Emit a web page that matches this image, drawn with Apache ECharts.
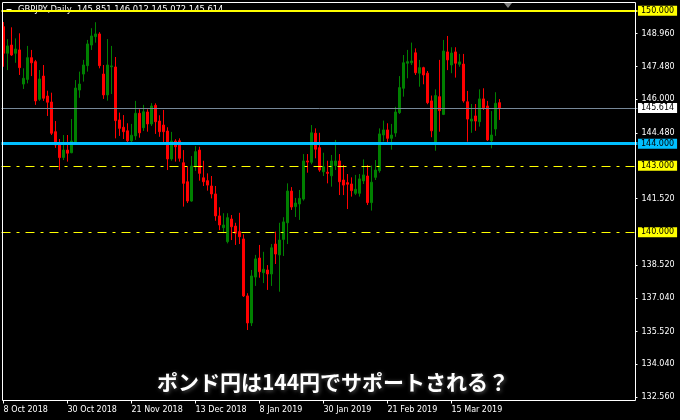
<!DOCTYPE html>
<html>
<head>
<meta charset="utf-8">
<script src="https://cdn.jsdelivr.net/npm/echarts@6/dist/echarts.min.js"></script>
<style>
html,body{margin:0;padding:0;background:#000;}
#chart{width:680px;height:420px;}
</style>
</head>
<body>
<div id="chart"></div>
<script>
// ---- data ----
const tickLabels = ['8 Oct 2018','30 Oct 2018','21 Nov 2018','13 Dec 2018','8 Jan 2019','30 Jan 2019','21 Feb 2019','15 Mar 2019'];
const opens = [
149.28,148.08,148.45,148.08,148.23,146.69,146.90,147.88,147.70,146.00,
147.05,146.15,145.88,144.54,143.94,143.38,143.71,143.59,144.08,146.42,
147.14,147.52,148.45,148.83,148.95,147.14,146.20,147.47,147.46,145.07,
144.74,144.58,144.13,144.35,145.37,144.72,145.43,144.89,145.73,145.02,
144.84,144.57,143.31,144.12,144.13,143.14,142.28,141.41,142.96,143.71,
142.46,142.33,142.09,141.73,140.74,140.21,139.58,140.60,140.28,140.03,
139.70,137.13,135.91,137.98,138.84,138.18,138.30,138.12,139.47,138.98,
139.68,140.43,141.86,141.16,141.28,141.50,143.22,143.16,144.47,143.82,
142.73,142.71,142.55,143.01,143.22,142.36,142.24,142.18,141.76,141.76,
142.32,142.54,141.34,142.48,142.78,144.39,144.62,144.24,144.48,145.40,
146.50,147.63,147.65,148.10,147.18,147.43,147.18,145.93,144.04,146.12,
145.32,148.14,147.55,148.14,147.58,147.59,145.89,145.02,145.25,144.99,
146.02,145.70,144.13,144.66,145.851];
const closes = [
148.08,148.41,148.00,148.27,147.43,146.95,147.88,147.65,145.93,146.92,
146.05,145.87,144.47,143.94,143.37,143.71,143.57,144.12,146.51,146.69,
147.55,148.50,148.86,148.95,147.52,146.20,147.55,147.51,145.04,144.69,
144.54,144.13,144.38,145.37,144.49,145.44,144.89,145.70,144.99,144.54,
144.54,143.31,144.12,143.86,143.34,142.21,141.41,142.99,143.64,142.66,
142.28,142.13,141.73,140.74,140.33,140.33,140.66,140.25,139.96,139.80,
137.13,135.91,138.03,138.80,138.22,138.33,138.12,139.30,139.02,139.65,
140.47,141.86,141.14,141.32,141.53,143.22,143.17,144.49,143.75,142.81,
142.96,142.66,143.22,143.22,142.28,142.13,142.17,141.88,141.94,142.41,
142.59,141.34,142.26,142.81,144.44,144.62,144.24,144.39,145.43,146.53,
147.65,147.70,147.73,147.20,147.43,147.10,145.85,144.58,146.17,145.49,
148.18,147.78,148.09,147.63,147.69,145.93,145.11,145.11,145.02,146.02,
145.62,144.17,144.39,145.82,145.614];
const lows = [
147.47,147.32,147.96,147.65,147.10,146.47,146.72,147.05,145.75,145.93,
145.93,145.25,144.39,143.81,142.81,143.26,143.19,143.57,144.02,146.07,
146.80,147.25,148.23,148.56,147.40,146.02,145.94,146.24,144.24,144.35,
144.21,144.04,144.01,144.17,144.27,144.57,144.54,144.80,144.44,144.31,
144.02,142.81,143.23,143.19,143.19,141.16,141.32,141.38,142.77,142.33,
142.09,141.88,141.53,140.52,140.10,139.96,139.50,139.65,139.43,139.47,
137.08,135.59,135.77,137.58,137.95,137.71,137.40,137.58,138.57,137.32,
138.93,139.47,141.01,140.69,140.56,141.43,142.69,143.07,143.34,142.73,
142.54,142.21,142.06,142.81,141.68,141.68,141.05,141.61,141.68,141.61,
142.18,141.23,140.98,142.36,142.69,144.10,144.02,143.73,144.31,145.34,
146.12,146.95,147.55,147.10,146.57,146.68,145.78,144.29,143.68,144.54,
145.29,147.32,147.18,146.98,147.47,145.85,144.09,144.49,144.58,144.77,
145.52,144.12,143.79,144.35,145.072];
const highs = [
149.49,148.72,149.25,148.75,148.98,147.40,148.41,148.23,147.78,147.32,
147.55,146.39,146.30,145.02,144.21,144.39,144.39,145.11,146.87,147.25,
147.78,148.68,149.21,149.48,149.03,147.55,148.72,148.41,147.91,145.40,
145.29,144.92,144.89,145.93,145.55,145.75,145.55,145.83,145.82,145.28,
145.52,144.74,144.53,144.20,144.24,143.71,142.96,143.44,143.89,143.86,
143.23,142.66,142.54,142.09,141.13,140.86,140.86,140.78,140.43,140.88,
139.91,137.25,138.30,138.98,139.43,139.12,138.52,139.47,140.03,140.43,
140.68,142.21,142.04,141.55,141.91,143.53,143.53,144.84,144.69,144.49,
143.59,143.23,143.49,144.17,143.53,143.04,142.63,142.48,142.59,142.63,
143.29,143.04,143.01,143.26,144.69,145.04,144.92,144.89,145.66,147.05,
148.00,148.23,148.56,148.30,147.78,147.47,147.28,146.17,146.45,147.78,
148.68,148.86,148.35,148.35,148.05,148.05,146.38,145.79,145.79,146.45,
146.50,145.93,145.47,146.32,146.012];
const priceTicks = [148.96,147.48,146.00,144.48,141.52,138.52,137.04,135.52,134.04,132.56];
const levelLines = [150.000, 145.614, 144.000, 143.000, 140.000];
const headerText = 'GBPJPY,Daily  145.851 146.012 145.072 145.614';
const titleText = 'ポンド円は144円でサポートされる？';

// trading-day categories (weekends, 25 Dec and 1 Jan skipped) plus empty right margin
const categories = [];
(function(){
  const d = new Date(Date.UTC(2018,9,8));
  while (categories.length < opens.length) {
    const wd = d.getUTCDay(), m = d.getUTCMonth(), dd = d.getUTCDate();
    const hol = (m===11 && dd===25) || (m===0 && dd===1);
    if (wd!==0 && wd!==6 && !hol) categories.push(d.toISOString().slice(0,10));
    d.setUTCDate(d.getUTCDate()+1);
  }
  for (let k=0; categories.length < 159; k++) categories.push('pad'+k);
})();

const candleData = opens.map((o,i)=>[o, closes[i], lows[i], highs[i]]);
const labelEvery = 16;
const showTick = (idx)=> idx % labelEvery === 0 && idx/labelEvery < tickLabels.length;

const FONT = 'DejaVu Sans';
function box(bg, txt){
  return {show:true, position:'end', distance:0.5, formatter: txt,
    color:'#000', backgroundColor:bg, fontFamily:FONT, fontSize:8,
    lineHeight:9, padding:[1,3,0,3]};
}

const chart = echarts.init(document.getElementById('chart'), null, {renderer:'canvas'});
chart.setOption({
  backgroundColor:'#000',
  animation:false,
  grid:{left:1.5, right:42.5, top:2.5, bottom:19.5, containLabel:false},
  xAxis:{
    type:'category', data:categories, boundaryGap:true,
    axisLine:{show:false},
    axisTick:{show:true, alignWithLabel:true, interval:(i)=>showTick(i), length:3, lineStyle:{color:'#fff', width:1}},
    axisLabel:{interval:(i)=>showTick(i), formatter:(v,i)=>tickLabels[i/labelEvery]||'', align:'left',
      color:'#fff', fontFamily:FONT, fontSize:8, margin:5},
    splitLine:{show:false}
  },
  yAxis:{
    type:'value', position:'right', offset:-2, scale:true,
    min:132.41, max:150.37,
    axisLine:{show:false},
    splitLine:{show:false},
    axisTick:{show:true, customValues:priceTicks, length:2, lineStyle:{color:'#fff'}},
    axisLabel:{customValues:priceTicks, formatter:(v)=>Number(v).toFixed(3), color:'#fff',
      fontFamily:FONT, fontSize:8, margin:6}
  },
  series:[{
    type:'candlestick',
    data:candleData,
    barWidth:2,
    itemStyle:{color:'#008000', color0:'#ff0000', borderColor:'#008000', borderColor0:'#ff0000', borderWidth:1},
    markLine:{
      silent:true, symbol:['none','none'], animation:false,
      data:[
        {yAxis:levelLines[0], lineStyle:{color:'#ffff00', width:2, type:'solid'}, label:box('#ffff00', levelLines[0].toFixed(3))},
        {yAxis:levelLines[1], lineStyle:{color:'#778899', width:1, type:'solid'}, label:box('#ffffff', levelLines[1].toFixed(3))},
        {yAxis:levelLines[2], lineStyle:{color:'#00bfff', width:3, type:'solid'}, label:box('#00bfff', levelLines[2].toFixed(3))},
        {yAxis:levelLines[3], lineStyle:{color:'#ffff00', width:1, type:[9,6,3,6]}, label:box('#ffff00', levelLines[3].toFixed(3))},
        {yAxis:levelLines[4], lineStyle:{color:'#ffff00', width:1, type:[9,6,3,6]}, label:box('#ffff00', levelLines[4].toFixed(3))}
      ]
    }
  }],
  graphic:[
    {type:'text', z:-1, zlevel:0, left:18, top:6, style:{text:headerText, fill:'#ffffff', font:'8.4px "DejaVu Sans"'}},
    {type:'polygon', z:-1, shape:{points:[[6,9],[12,9],[9,12]]}, style:{fill:'#ffffff'}},
    {type:'polygon', z:100, shape:{points:[[504,3],[512,3],[508,8]]}, style:{fill:'#808080'}},
    {type:'rect', z:100, shape:{x:2.5, y:2.5, width:633, height:398}, style:{fill:null, stroke:'#ffffff', lineWidth:1}},
    {type:'text', z:100, x:333, y:382, style:{text:titleText, fill:'#ffffff', align:'center', verticalAlign:'middle',
      font:'bold 21px "Noto Sans CJK JP"', textShadowColor:'rgba(90,90,90,1)', textShadowBlur:4, textShadowOffsetX:1, textShadowOffsetY:1}}
  ]
});
</script>
</body>
</html>
